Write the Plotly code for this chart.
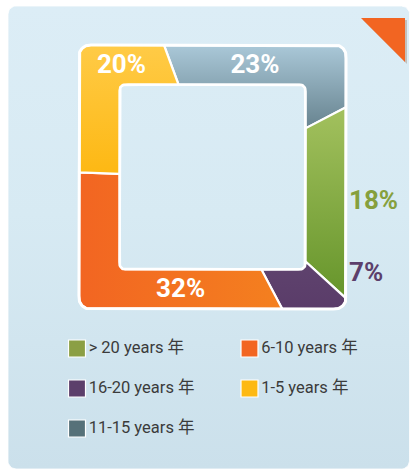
import numpy as np
import plotly.graph_objects as go

# ---------------- data ----------------
categories = ["> 20 years 年", "6-10 years 年", "16-20 years 年", "1-5 years 年", "11-15 years 年"]
shares = [18, 32, 7, 20, 23]                      # percent
swatch_colors = ["#8b9f44", "#f26522", "#5c3f6b", "#fdb913", "#567179"]
ring_order = [4, 0, 2, 1, 3]                      # clockwise drawing order (indices into categories)

# ---------------- geometry / style constants ----------------
W, H = 410, 470
CX, CY = 212.5, 177.0
OUT_HX, OUT_HY, OUT_R = 133.5, 132.0, 11.0
IN_HX, IN_HY, IN_R = 93.0, 92.5, 6.0
START = 0.08                                      # start position along the ring (fraction of perimeter)
LABEL_FONT = "Roboto, Liberation Sans Narrow, sans-serif"
LEGEND_FONT = "Roboto, Noto Sans CJK SC, sans-serif"

slice_fill = {
    0: ("vertical", "#a3c15e", "#66952b"),          # green
    1: ("horizontal", "#f26522", "#f4801f"),        # orange
    2: ("vertical", "#5f436e", "#5a3c69"),          # purple
    3: ("vertical", "#ffcb47", "#fdb813"),          # yellow
    4: ("vertical", "#aac8d8", "#67838f"),          # slate
}
outside_label_color = {0: "#86a03d", 2: "#5c3f6b"}


def rect_point(t, hx, hy):
    t = t % 1.0
    P = 4 * hx + 4 * hy
    d = t * P
    if d < 2 * hx:
        return CX - hx + d, CY - hy
    d -= 2 * hx
    if d < 2 * hy:
        return CX + hx, CY - hy + d
    d -= 2 * hy
    if d < 2 * hx:
        return CX + hx - d, CY + hy
    d -= 2 * hx
    return CX - hx, CY + hy - d


def sdf(px, py, hx, hy, r):
    qx = abs(px) - hx + r
    qy = abs(py) - hy + r
    return np.hypot(max(qx, 0.0), max(qy, 0.0)) + min(max(qx, qy), 0.0) - r


def ray_hit(dx, dy, hx, hy, r):
    lo, hi = 0.0, 2.0
    for _ in range(45):
        mid = (lo + hi) / 2
        if sdf(mid * dx, mid * dy, hx, hy, r) < 0:
            lo = mid
        else:
            hi = mid
    return CX + lo * dx, CY + lo * dy


def rounded_rect(x0, y0, x1, y1, r, n=10):
    pts = []
    corners = [(x1 - r, y0 + r, -90, 0), (x1 - r, y1 - r, 0, 90),
               (x0 + r, y1 - r, 90, 180), (x0 + r, y0 + r, 180, 270)]
    for cx, cy, a0, a1 in corners:
        for a in np.linspace(np.radians(a0), np.radians(a1), n):
            pts.append((cx + r * np.cos(a), cy + r * np.sin(a)))
    pts.append(pts[0])
    return [p[0] for p in pts], [p[1] for p in pts]


fig = go.Figure()

# card background
cx_, cy_ = rounded_rect(8, 6, 409.5, 469, 8)
fig.add_trace(go.Scatter(x=cx_, y=cy_, mode="lines", fill="toself",
                         line=dict(color="rgba(255,255,255,0.8)", width=1),
                         fillgradient=dict(type="vertical",
                                           colorscale=[[0, "#dcedf6"], [0.45, "#d7eaf3"], [1, "#cbe0eb"]],
                                           start=6, stop=469),
                         hoverinfo="skip", showlegend=False))

# ring slices
total = float(sum(shares))
P_out = 4 * OUT_HX + 4 * OUT_HY
side_len = [2 * OUT_HX, 2 * OUT_HY, 2 * OUT_HX, 2 * OUT_HY]
side_start = np.cumsum([0] + side_len[:-1]) / P_out
side_end = np.cumsum(side_len) / P_out

label_x, label_y, label_text, label_col, label_anchor = [], [], [], [], []
t = START
for idx in ring_order:
    t0, t1 = t, t + shares[idx] / total
    t = t1
    ts = np.linspace(t0, t1, 300)
    outer, inner = [], []
    for tt in ts:
        px, py = rect_point(tt, OUT_HX, OUT_HY)
        dx, dy = px - CX, py - CY
        outer.append(ray_hit(dx, dy, OUT_HX, OUT_HY, OUT_R))
        inner.append(ray_hit(dx, dy, IN_HX, IN_HY, IN_R))
    pts = outer + inner[::-1] + [outer[0]]
    xs = [p[0] for p in pts]
    ys = [p[1] for p in pts]
    gtype, c0, c1 = slice_fill[idx]
    if gtype == "vertical":
        g0, g1 = min(ys), max(ys)
    else:
        g0, g1 = min(xs), max(xs)
    fig.add_trace(go.Scatter(x=xs, y=ys, mode="lines", fill="toself",
                             line=dict(color="white", width=2.2),
                             fillgradient=dict(type=gtype, colorscale=[[0, c0], [1, c1]],
                                               start=g0, stop=g1),
                             name=categories[idx], hoverinfo="name", showlegend=False))

    # label placement from the slice's extent on each side of the square
    overlaps = []
    for s in range(4):
        best = (0.0, None)
        for k in (0.0, 1.0):
            a = max(t0, side_start[s] + k)
            b = min(t1, side_end[s] + k)
            if b > a and (b - a) > best[0]:
                best = (b - a, ((a + b) / 2 - k - side_start[s]) * P_out)
        overlaps.append(best)
    horiz = max([(overlaps[0][0], 0), (overlaps[2][0], 2)])
    if horiz[0] * P_out >= 70:
        s = horiz[1]
        mid_d = overlaps[s][1]
        band = (OUT_HY + IN_HY) / 2
        if s == 0:
            lx, ly = CX - OUT_HX + mid_d, CY - band
        else:
            lx, ly = CX + OUT_HX - mid_d, CY + band
        label_x.append(lx)
        label_y.append(ly + 1.5)
        label_col.append("white")
        label_anchor.append("middle center")
    else:
        if overlaps[1][1] is not None:
            ly = CY - OUT_HY + overlaps[1][1]
        else:
            ly = CY + OUT_HY
        ly = min(max(ly, CY - OUT_HY + 20), CY + OUT_HY - 35)
        label_x.append(CX + OUT_HX + 3)
        label_y.append(ly)
        label_col.append(outside_label_color.get(idx, swatch_colors[idx]))
        label_anchor.append("middle right")
    label_text.append(f"{shares[idx]}%")

# outer border and hole outline
ox, oy = [], []
ix, iy = [], []
for tt in np.linspace(0, 1, 800):
    px, py = rect_point(tt, OUT_HX, OUT_HY)
    dx, dy = px - CX, py - CY
    a = ray_hit(dx, dy, OUT_HX, OUT_HY, OUT_R)
    b = ray_hit(dx, dy, IN_HX, IN_HY, IN_R)
    ox.append(a[0]); oy.append(a[1])
    ix.append(b[0]); iy.append(b[1])
fig.add_trace(go.Scatter(x=ox, y=oy, mode="lines", line=dict(color="white", width=3),
                         hoverinfo="skip", showlegend=False))
fig.add_trace(go.Scatter(x=ix, y=iy, mode="lines", line=dict(color="white", width=2.6),
                         hoverinfo="skip", showlegend=False))

# percentage labels
fig.add_trace(go.Scatter(x=label_x, y=label_y, mode="text", text=label_text,
                         textposition=label_anchor,
                         textfont=dict(family=LABEL_FONT, size=26, color=label_col, weight="bold"),
                         hoverinfo="skip", showlegend=False))

# legend (two columns)
LEG_X0, LEG_DX, LEG_Y0, LEG_DY = 77, 172.5, 348.5, 40
lx = [LEG_X0 + (i % 2) * LEG_DX for i in range(len(categories))]
ly = [LEG_Y0 + (i // 2) * LEG_DY for i in range(len(categories))]
fig.add_trace(go.Scatter(x=lx, y=ly, mode="markers+text", text=categories,
                         textposition="middle right",
                         marker=dict(symbol="square", size=17, color=swatch_colors,
                                     line=dict(color="white", width=1.2)),
                         textfont=dict(family=LEGEND_FONT, size=16.5, color="#3b3b3b"),
                         hoverinfo="text", showlegend=False))

# corner ribbon
fig.add_shape(type="path", path="M 363 20 L 407 20 L 407 64 Z", xref="x", yref="y",
              fillcolor="rgba(120,60,20,0.25)", line=dict(width=0), layer="above")
fig.add_shape(type="path", path="M 361 18 L 405 18 L 405 62 Z", xref="x", yref="y",
              fillcolor="#f26522", line=dict(width=0), layer="above")

fig.update_layout(
    width=W, height=H, margin=dict(l=0, r=0, t=0, b=0),
    paper_bgcolor="white", plot_bgcolor="white",
    xaxis=dict(range=[0, W], visible=False, fixedrange=True),
    yaxis=dict(range=[H, 0], visible=False, fixedrange=True),
    showlegend=False,
)

fig.write_html("out.html", config={"displayModeBar": False},
               post_script="document.body.style.margin='0';document.body.style.overflow='hidden';")
